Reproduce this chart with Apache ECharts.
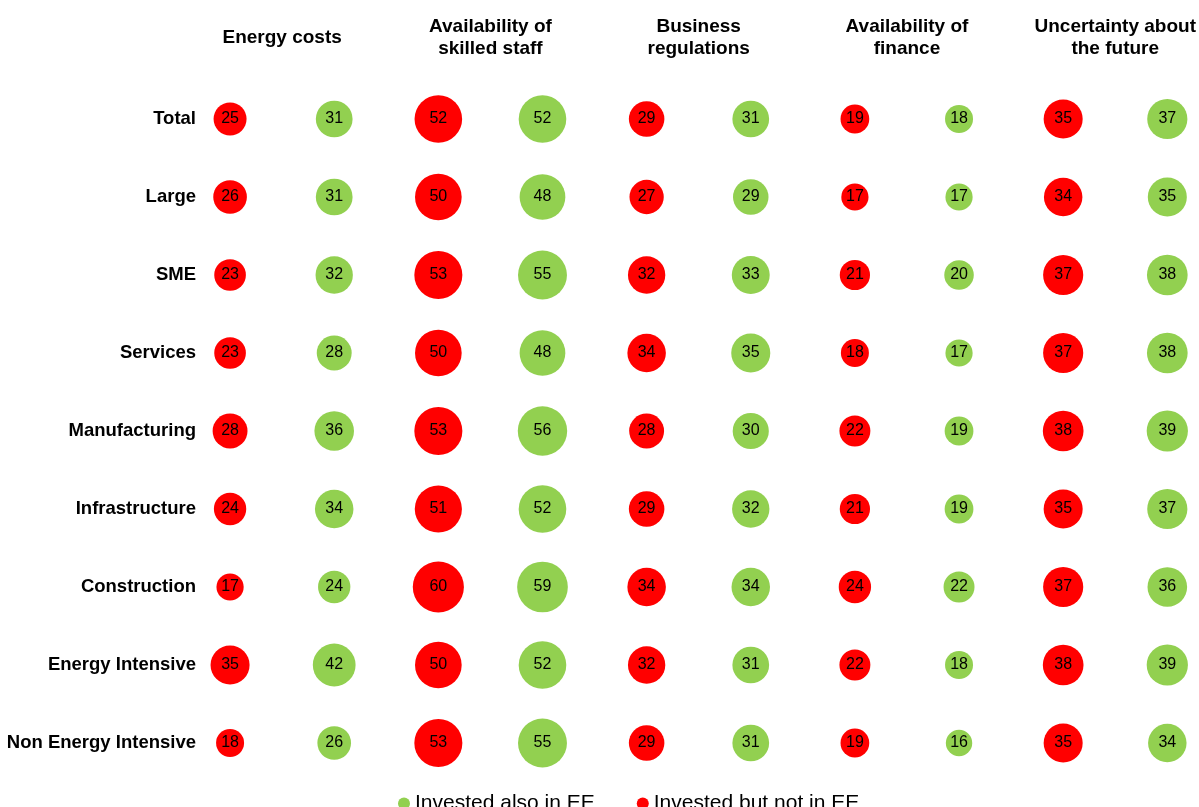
<!DOCTYPE html>
<html>
<head>
<meta charset="utf-8">
<script src="https://cdn.jsdelivr.net/npm/echarts@6/dist/echarts.min.js"></script>
<style>
  html, body { margin: 0; padding: 0; background: #fff; }
  #chart { width: 1199px; height: 807px; }
</style>
</head>
<body>
<div id="chart"></div>
<script>
// Row categories (top to bottom)
const rows = ['Total', 'Large', 'SME', 'Services', 'Manufacturing', 'Infrastructure',
  'Construction', 'Energy Intensive', 'Non Energy Intensive'];
// Column groups (obstacles)
const groups = ['Energy costs', 'Availability of\nskilled staff', 'Business\nregulations',
  'Availability of\nfinance', 'Uncertainty about\nthe future'];
// Series names
const seriesAlso = 'Invested also in EE';
const seriesNot = 'Invested but not in EE';
// Values per row, one per group: Invested but not in EE (red)
const notInEE = [
  [25, 52, 29, 19, 35],
  [26, 50, 27, 17, 34],
  [23, 53, 32, 21, 37],
  [23, 50, 34, 18, 37],
  [28, 53, 28, 22, 38],
  [24, 51, 29, 21, 35],
  [17, 60, 34, 24, 37],
  [35, 50, 32, 22, 38],
  [18, 53, 29, 19, 35]
];
// Values per row, one per group: Invested also in EE (green)
const alsoInEE = [
  [31, 52, 31, 18, 37],
  [31, 48, 29, 17, 35],
  [32, 55, 33, 20, 38],
  [28, 48, 35, 17, 38],
  [36, 56, 30, 19, 39],
  [34, 52, 32, 19, 37],
  [24, 59, 34, 22, 36],
  [42, 52, 31, 18, 39],
  [26, 55, 31, 16, 34]
];

function buildData(table, offset) {
  const out = [];
  table.forEach((vals, r) => {
    vals.forEach((v, g) => out.push([2 * g + offset, r, v]));
  });
  return out;
}
// Header positions: centre of each red/green pair of columns
const groupCentres = groups.map((_, g) => 2 * g + 0.5);

const FONT = '"Liberation Sans", Arial, sans-serif';
const X_MIN = -0.5, X_MAX = 9.25;
const chart = echarts.init(document.getElementById('chart'));
const labelCfg = {
  show: true, position: 'inside', color: '#000', fontSize: 16, fontFamily: FONT,
  formatter: p => p.value[2]
};
const sizeFn = v => 6.6 * Math.sqrt(v[2]);

chart.setOption({
  backgroundColor: '#ffffff',
  animation: false,
  grid: { left: 178, top: 80, width: 1021, height: 702 },
  legend: {
    data: [seriesAlso, seriesNot],
    left: 393, top: 788,
    icon: 'circle', itemWidth: 12, itemHeight: 12, itemGap: 42,
    textStyle: { fontSize: 21, color: '#000', fontFamily: FONT }
  },
  xAxis: [
    { type: 'value', min: X_MIN, max: X_MAX, show: false },
    {
      type: 'value', min: X_MIN, max: X_MAX, position: 'top', gridIndex: 0,
      axisLine: { show: false }, axisTick: { show: false }, splitLine: { show: false },
      axisLabel: {
        customValues: groupCentres,
        formatter: v => groups[groupCentres.indexOf(v)] || '',
        margin: 42, verticalAlign: 'middle', fontWeight: 'bold',
        fontSize: 19, lineHeight: 22, color: '#000', fontFamily: FONT, align: 'center'
      }
    }
  ],
  yAxis: {
    type: 'category', data: rows, inverse: true,
    axisLine: { show: false }, axisTick: { show: false }, splitLine: { show: false },
    axisLabel: { margin: -18, fontWeight: 'bold', fontSize: 18.5, color: '#000', fontFamily: FONT }
  },
  series: [
    {
      name: seriesAlso, type: 'scatter', xAxisIndex: 0,
      data: buildData(alsoInEE, 1), symbolSize: sizeFn,
      itemStyle: { color: '#92D050', opacity: 1 }, label: labelCfg, clip: false
    },
    {
      name: seriesNot, type: 'scatter', xAxisIndex: 0,
      data: buildData(notInEE, 0), symbolSize: sizeFn,
      itemStyle: { color: '#FF0000', opacity: 1 }, label: labelCfg, clip: false
    }
  ]
});
</script>
</body>
</html>
